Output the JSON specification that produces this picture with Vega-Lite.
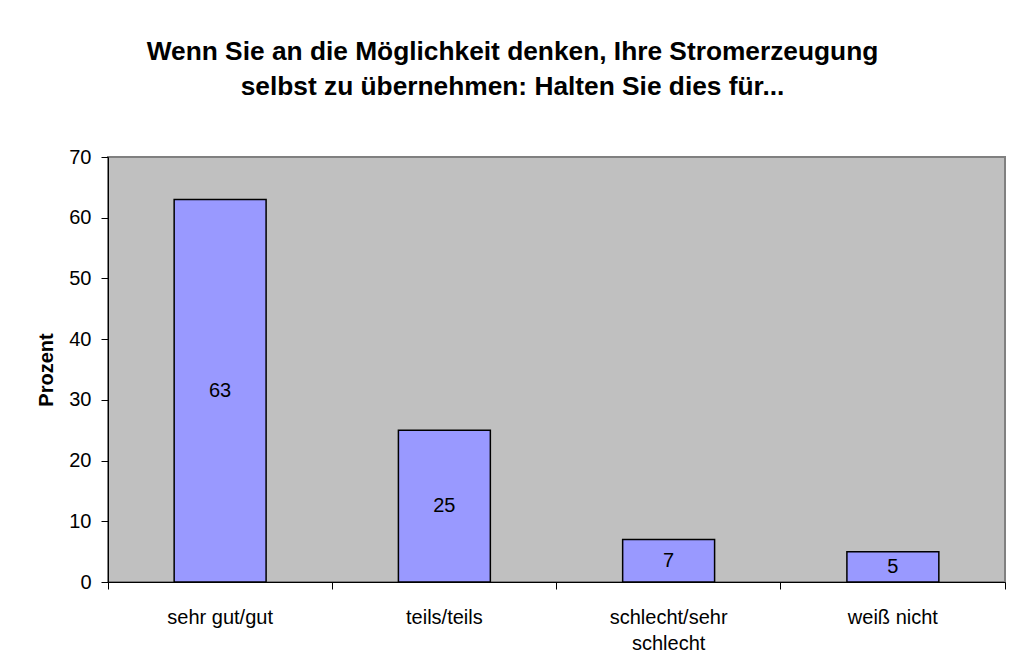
{
  "$schema": "https://vega.github.io/schema/vega-lite/v6.json",
  "autosize": "none",
  "width": 897,
  "height": 425,
  "padding": {"left": 108, "top": 157, "right": 4, "bottom": 89},
  "background": "white",
  "title": {
    "text": ["Wenn Sie an die Möglichkeit denken, Ihre Stromerzeugung", "selbst zu übernehmen: Halten Sie dies für..."],
    "font": "Liberation Sans",
    "fontSize": 26.3,
    "fontWeight": "bold",
    "lineHeight": 35,
    "color": "black",
    "anchor": "middle",
    "dx": -44,
    "offset": 47
  },
  "data": {
    "values": [
      {"kategorie": "sehr gut/gut", "prozent": 63},
      {"kategorie": "teils/teils", "prozent": 25},
      {"kategorie": "schlecht/sehr schlecht", "prozent": 7},
      {"kategorie": "weiß nicht", "prozent": 5}
    ]
  },
  "config": {
    "view": {"fill": "#C0C0C0", "stroke": "#808080", "strokeWidth": 2},
    "axis": {
      "labelFont": "Liberation Sans",
      "titleFont": "Liberation Sans",
      "labelColor": "black",
      "titleColor": "black",
      "domainColor": "black",
      "tickColor": "black",
      "grid": false
    }
  },
  "encoding": {
    "x": {
      "field": "kategorie",
      "type": "nominal",
      "sort": null,
      "scale": {"paddingInner": 0, "paddingOuter": 0},
      "axis": {
        "title": null,
        "labelAngle": 0,
        "labelFontSize": 20,
        "labelPadding": 18,
        "labelLineHeight": 26,
        "tickSize": 7,
        "bandPosition": 1,
        "tickExtra": true,
        "labelExpr": "datum.label == 'schlecht/sehr schlecht' ? ['schlecht/sehr', 'schlecht'] : datum.label"
      }
    }
  },
  "layer": [
    {
      "mark": {"type": "bar", "fill": "#9999FF", "stroke": "black", "strokeWidth": 1.5, "width": {"band": 0.41}},
      "encoding": {
        "y": {
          "field": "prozent",
          "type": "quantitative",
          "scale": {"domain": [0, 70], "nice": false},
          "axis": {
            "title": "Prozent",
            "titleFontSize": 20,
            "titleFontWeight": "bold",
            "titlePadding": 12,
            "labelFontSize": 20,
            "labelPadding": 10,
            "tickSize": 7,
            "values": [0, 10, 20, 30, 40, 50, 60, 70]
          }
        }
      }
    },
    {
      "mark": {"type": "text", "font": "Liberation Sans", "fontSize": 20, "color": "black", "baseline": "middle"},
      "encoding": {
        "y": {"field": "prozent", "type": "quantitative", "stack": "zero", "bandPosition": 0.5},
        "text": {"field": "prozent", "type": "quantitative"}
      }
    }
  ]
}
